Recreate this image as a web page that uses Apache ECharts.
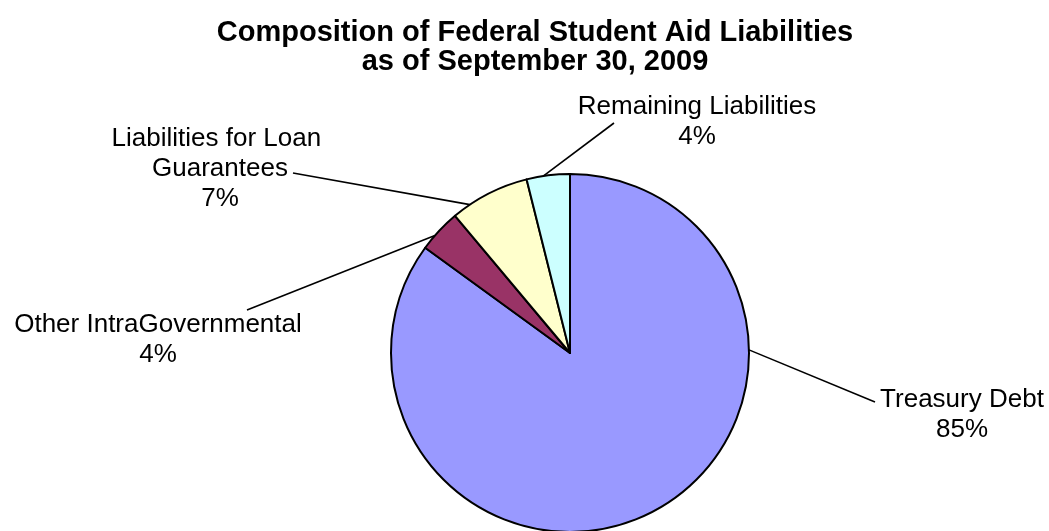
<!DOCTYPE html>
<html>
<head>
<meta charset="utf-8">
<script src="https://cdn.jsdelivr.net/npm/echarts@6.0.0/dist/echarts.min.js"></script>
<style>
html,body{margin:0;padding:0;background:#fff;}
#chart{width:1049px;height:531px;}
</style>
</head>
<body>
<div id="chart"></div>
<script>
const titleLines = ['Composition of Federal Student Aid Liabilities', 'as of September 30, 2009'];
const categories = ['Treasury Debt', 'Other IntraGovernmental', 'Liabilities for Loan Guarantees', 'Remaining Liabilities'];
const values = [85.0, 3.9, 7.2, 3.9];
const colors = ['#9999FF', '#993366', '#FFFFCC', '#CCFFFF'];

// ---- layout (not data) ----
const PIE_CENTER = [570, 353];
const PIE_RADIUS = 179;
// label block centres, in category order
const labelCenters = [[962, 415], [158, 340], [220, 169], [697, 122]];
// leader line: angle on the pie rim (deg clockwise from 12 o'clock) and end offset from label centre
const leaderAngles = [89, 311, 326, 351.5];
const leaderEndOffsets = [[-87, -13], [89, -30], [73, 4], [-83, 1]];

const chart = echarts.init(document.getElementById('chart'), null, {renderer: 'canvas'});
const FONT = '"Liberation Sans", Arial, sans-serif';

function rimPoint(deg) {
  const a = deg * Math.PI / 180;
  return [PIE_CENTER[0] + PIE_RADIUS * Math.sin(a), PIE_CENTER[1] - PIE_RADIUS * Math.cos(a)];
}

chart.setOption({
  animation: false,
  backgroundColor: '#ffffff',
  title: {
    text: titleLines.join('\n'),
    left: 535,
    top: 18,
    padding: 0,
    textAlign: 'center',
    textStyle: {
      fontFamily: FONT,
      fontWeight: 'bold',
      fontSize: 29,
      lineHeight: 29,
      color: '#000'
    }
  },
  series: [{
    type: 'pie',
    center: PIE_CENTER,
    radius: PIE_RADIUS,
    startAngle: 90,
    clockwise: true,
    percentPrecision: 0,
    avoidLabelOverlap: false,
    itemStyle: { borderColor: '#000', borderWidth: 2 },
    label: {
      show: true,
      formatter: '{b}\n{d}%',
      fontFamily: FONT,
      fontSize: 26,
      lineHeight: 30,
      color: '#000',
      align: 'center'
    },
    labelLine: {
      show: true,
      length: 10,
      length2: 0,
      lineStyle: { color: '#000', width: 1.6 }
    },
    labelLayout: function (p) {
      const i = p.dataIndex;
      const c = labelCenters[i];
      if (!c) return {};
      const off = leaderEndOffsets[i];
      return {
        x: c[0], y: c[1], align: 'center', verticalAlign: 'middle',
        labelLinePoints: [rimPoint(leaderAngles[i]), [c[0] + off[0], c[1] + off[1]], [c[0] + off[0], c[1] + off[1]]]
      };
    },
    data: categories.map((name, i) => ({
      name: name,
      value: values[i],
      itemStyle: { color: colors[i] },
      label: i === 2 ? { width: 235, overflow: 'break' } : {}
    }))
  }]
});
</script>
</body>
</html>
